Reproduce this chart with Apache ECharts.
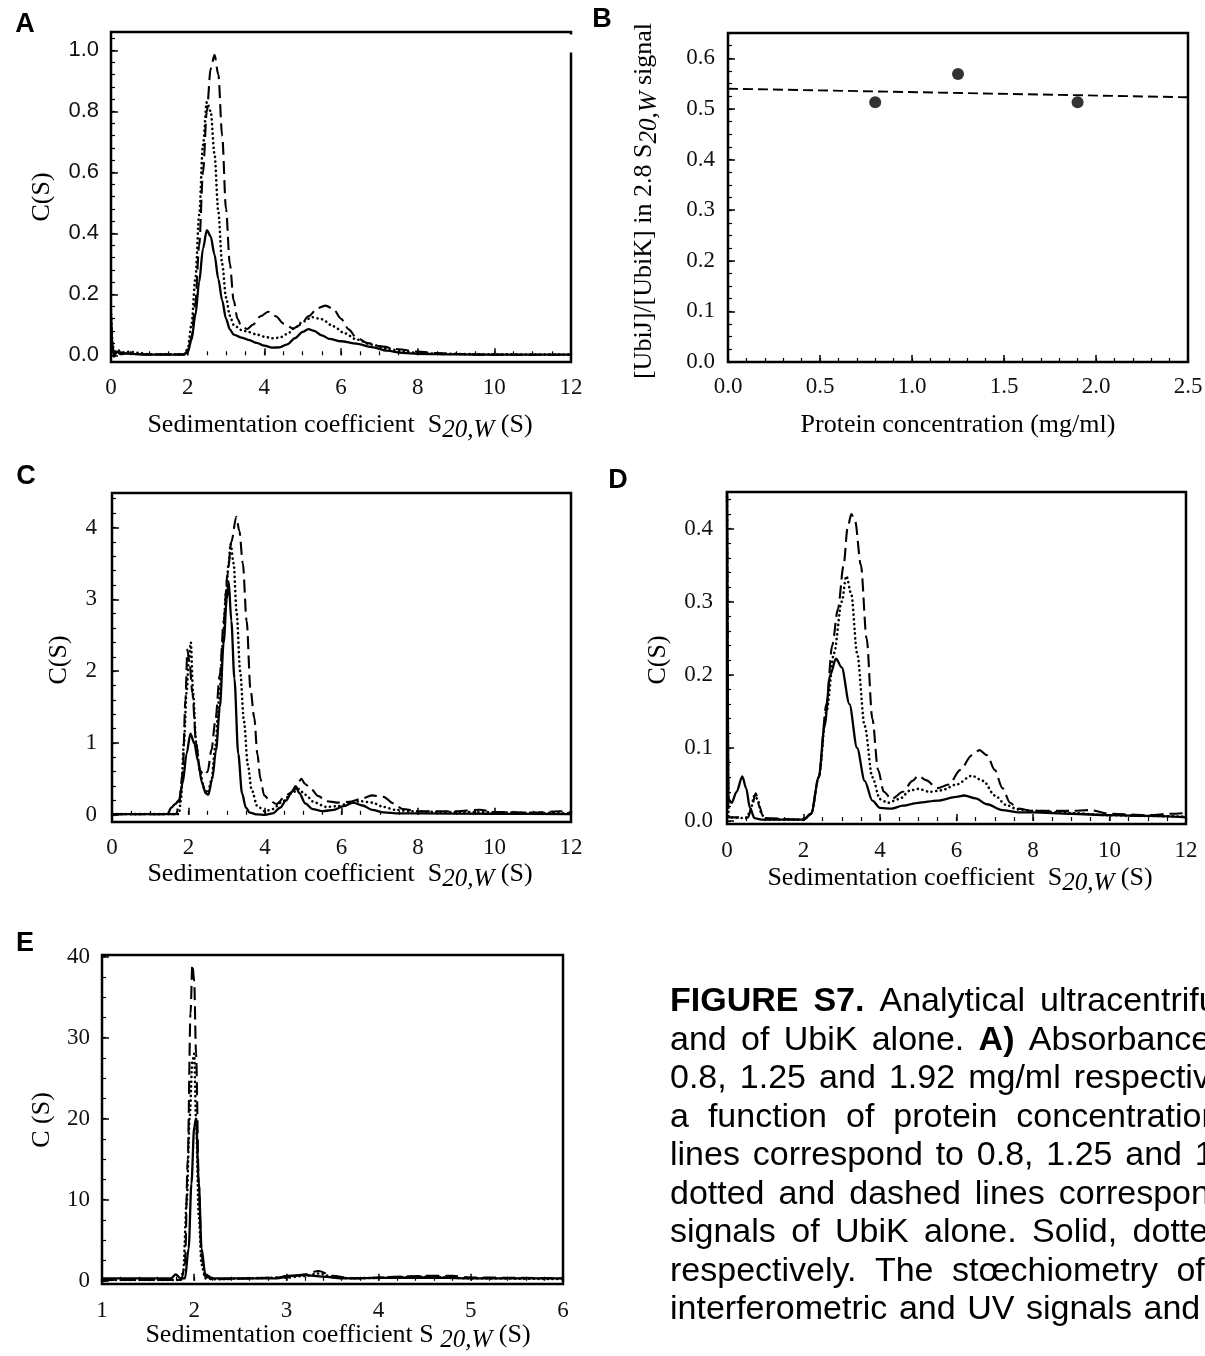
<!DOCTYPE html>
<html><head><meta charset="utf-8">
<script src="https://cdn.jsdelivr.net/npm/echarts@6.0.0/dist/echarts.min.js"></script>
<style>html,body{margin:0;padding:0;background:#fff}#c{width:1205px;height:1356px}</style>
</head><body><div id="c"></div>
<script>
// ---------- DATA ----------
// Panel A : c(s) absorbance, [s, c(s)]
const A_solid = [[0,0.13],[0.04,0.03],[0.08,-0.005],[0.15,0.012],[0.25,0.004],[0.4,0.006],[0.7,0.003],[1,0.002],[1.9,0.002],[2.0,0.01],[2.1,0.05],[2.2,0.13],[2.3,0.24],[2.4,0.35],[2.5,0.41],[2.6,0.39],[2.7,0.33],[2.8,0.25],[2.9,0.18],[3.0,0.12],[3.1,0.085],[3.2,0.068],[3.4,0.058],[3.6,0.05],[3.8,0.041],[4.0,0.032],[4.2,0.025],[4.4,0.026],[4.6,0.036],[4.8,0.056],[5.0,0.077],[5.15,0.086],[5.3,0.08],[5.5,0.065],[5.7,0.054],[6.0,0.046],[6.4,0.038],[6.8,0.027],[7.2,0.015],[7.6,0.008],[8,0.005],[9,0.003],[10,0.002],[12,0.002]];
const A_dotted = [[0,0.15],[0.04,0.04],[0.08,0.005],[0.15,0.018],[0.3,0.01],[0.5,0.012],[0.7,0.008],[1,0.003],[1.9,0.003],[2.0,0.02],[2.1,0.1],[2.2,0.25],[2.3,0.46],[2.4,0.69],[2.5,0.83],[2.6,0.8],[2.7,0.66],[2.8,0.47],[2.9,0.3],[3.0,0.19],[3.1,0.13],[3.2,0.1],[3.4,0.083],[3.6,0.076],[3.8,0.068],[4.0,0.061],[4.2,0.056],[4.4,0.058],[4.6,0.07],[4.8,0.09],[5.0,0.11],[5.25,0.125],[5.5,0.118],[5.8,0.095],[6.1,0.072],[6.4,0.052],[6.8,0.035],[7.2,0.022],[7.6,0.013],[8,0.008],[8.5,0.005],[10,0.003],[12,0.002]];
const A_dashed = [[0,0.1],[0.04,0.03],[0.08,0.0],[0.15,0.012],[0.4,0.006],[1,0.003],[1.9,0.003],[2.0,0.015],[2.1,0.06],[2.2,0.17],[2.3,0.36],[2.4,0.6],[2.5,0.8],[2.6,0.94],[2.7,0.985],[2.8,0.92],[2.9,0.72],[3.0,0.48],[3.1,0.3],[3.2,0.18],[3.3,0.12],[3.4,0.095],[3.55,0.086],[3.7,0.1],[3.9,0.128],[4.1,0.143],[4.3,0.128],[4.5,0.104],[4.75,0.088],[4.95,0.1],[5.15,0.128],[5.4,0.155],[5.6,0.163],[5.8,0.152],[6.0,0.12],[6.2,0.085],[6.4,0.058],[6.7,0.04],[7.0,0.03],[7.5,0.02],[8.0,0.012],[8.5,0.007],[9,0.004],[10,0.002],[12,0.002]];

// Panel B : stoichiometry vs protein concentration
const B_conc = [0.8, 1.25, 1.9];
const B_ratio = [0.513, 0.569, 0.513];
const B_fitX = [0, 2.5];
const B_fitY = [0.540, 0.523];

// Panel C : interference signal
const C_solid = [[0,0.01],[1.45,0.01],[1.55,0.1],[1.65,0.15],[1.75,0.2],[1.85,0.45],[1.95,0.85],[2.05,1.13],[2.15,1.0],[2.25,0.75],[2.35,0.45],[2.45,0.3],[2.52,0.28],[2.62,0.5],[2.72,0.9],[2.82,1.5],[2.92,2.4],[3.0,3.0],[3.05,3.25],[3.12,2.7],[3.2,1.9],[3.3,0.85],[3.4,0.3],[3.5,0.1],[3.6,0.03],[3.8,0.005],[4.0,0.0],[4.2,0.02],[4.4,0.1],[4.55,0.2],[4.7,0.32],[4.8,0.4],[4.9,0.3],[5.05,0.16],[5.25,0.08],[5.5,0.05],[5.8,0.07],[6.05,0.12],[6.3,0.17],[6.55,0.13],[6.8,0.07],[7.1,0.035],[7.5,0.02],[8,0.02],[10,0.015],[12,0.01]];
const C_dotted = [[0,0.01],[1.75,0.01],[1.8,0.2],[1.88,1.0],[1.95,1.7],[2.0,2.1],[2.06,2.4],[2.12,1.7],[2.2,1.0],[2.3,0.6],[2.4,0.38],[2.5,0.3],[2.6,0.48],[2.7,0.95],[2.8,1.6],[2.9,2.4],[2.98,3.1],[3.05,3.5],[3.1,3.77],[3.18,3.5],[3.26,2.8],[3.35,2.0],[3.45,1.3],[3.55,0.7],[3.65,0.35],[3.8,0.12],[4.0,0.05],[4.2,0.08],[4.45,0.18],[4.7,0.3],[4.88,0.36],[5.05,0.28],[5.3,0.17],[5.6,0.11],[5.9,0.12],[6.2,0.16],[6.5,0.19],[6.8,0.17],[7.1,0.11],[7.4,0.07],[7.8,0.05],[8.5,0.04],[9.5,0.04],[10.5,0.03],[12,0.02]];
const C_dashed = [[0,0.01],[1.68,0.01],[1.75,0.15],[1.85,0.6],[1.92,1.6],[1.97,2.3],[2.03,2.1],[2.1,1.7],[2.2,1.0],[2.3,0.62],[2.4,0.55],[2.5,0.6],[2.6,0.9],[2.7,1.3],[2.82,1.95],[2.92,2.7],[3.02,3.35],[3.12,3.8],[3.25,4.15],[3.33,3.95],[3.42,3.5],[3.52,2.7],[3.62,1.75],[3.72,1.35],[3.8,0.85],[3.88,0.5],[3.98,0.27],[4.12,0.2],[4.3,0.15],[4.5,0.24],[4.65,0.3],[4.8,0.36],[4.95,0.5],[5.05,0.43],[5.2,0.36],[5.4,0.26],[5.6,0.19],[5.9,0.17],[6.2,0.18],[6.5,0.22],[6.8,0.27],[7.1,0.25],[7.35,0.16],[7.6,0.08],[8.0,0.05],[9.0,0.05],[9.6,0.07],[10,0.04],[11,0.03],[11.7,0.05],[12,0.03]];

// Panel D : absorbance signal of UbiK alone
const D_solid = [[0,0.45],[0.04,0.03],[0.12,0.025],[0.25,0.04],[0.4,0.061],[0.5,0.045],[0.6,0.018],[0.72,0.004],[0.9,0.002],[2.0,0.002],[2.2,0.01],[2.4,0.06],[2.55,0.13],[2.7,0.2],[2.85,0.222],[3.0,0.21],[3.2,0.16],[3.4,0.1],[3.6,0.055],[3.8,0.028],[4.0,0.018],[4.3,0.017],[4.6,0.021],[5.0,0.025],[5.5,0.028],[6.0,0.033],[6.2,0.035],[6.5,0.031],[6.8,0.023],[7.2,0.015],[7.6,0.012],[8,0.012],[9,0.01],[10,0.008],[11,0.007],[12,0.005]];
const D_dotted = [[0,0.45],[0.04,0.005],[0.5,0.004],[0.6,0.012],[0.72,0.035],[0.8,0.03],[0.9,0.01],[1.0,0.002],[2.0,0.002],[2.2,0.01],[2.4,0.06],[2.6,0.15],[2.8,0.23],[3.0,0.3],[3.12,0.335],[3.25,0.31],[3.4,0.23],[3.6,0.13],[3.8,0.06],[4.0,0.03],[4.2,0.025],[4.5,0.03],[4.8,0.042],[5.0,0.044],[5.3,0.04],[5.6,0.042],[6.0,0.05],[6.4,0.062],[6.7,0.055],[7.0,0.035],[7.3,0.022],[7.6,0.016],[8,0.014],[9,0.011],[10,0.008],[11,0.007],[12,0.006]];
const D_dashed = [[0,0.45],[0.04,0.005],[0.55,0.005],[0.65,0.02],[0.75,0.038],[0.85,0.02],[0.95,0.004],[2.0,0.002],[2.2,0.01],[2.4,0.06],[2.6,0.16],[2.75,0.24],[2.9,0.29],[3.05,0.35],[3.15,0.4],[3.25,0.42],[3.35,0.41],[3.5,0.35],[3.65,0.25],[3.8,0.14],[3.95,0.07],[4.1,0.04],[4.3,0.03],[4.6,0.04],[4.85,0.055],[5.0,0.062],[5.2,0.056],[5.5,0.045],[5.8,0.05],[6.1,0.07],[6.4,0.09],[6.6,0.097],[6.8,0.09],[7.0,0.07],[7.2,0.045],[7.4,0.025],[7.6,0.017],[8,0.014],[9,0.014],[9.5,0.015],[10,0.01],[11,0.008],[11.6,0.01],[12,0.011]];

// Panel E : interference signal of UbiK alone
const E_solid = [[1,0.3],[1.75,0.3],[1.8,0.8],[1.85,0.3],[1.9,0.3],[1.94,4],[1.97,12],[2.0,19],[2.02,20],[2.05,12],[2.08,4],[2.12,0.8],[2.2,0.3],[2.9,0.3],[3.0,0.6],[3.2,0.7],[3.4,0.5],[3.6,0.3],[4.5,0.4],[5,0.3],[6,0.3]];
const E_dotted = [[1,0.1],[1.85,0.1],[1.88,1],[1.92,10],[1.95,20],[1.98,27],[2.0,28],[2.02,20],[2.05,8],[2.08,2],[2.12,0.3],[2.2,0.2],[3.0,0.4],[3.2,0.6],[3.35,0.9],[3.5,0.5],[3.7,0.3],[4.5,0.5],[5,0.3],[6,0.2]];
const E_dashed = [[1,0.1],[1.86,0.1],[1.9,2],[1.93,15],[1.96,33],[1.98,39],[2.0,37],[2.02,28],[2.05,12],[2.08,3],[2.12,0.5],[2.2,0.2],[3.0,0.4],[3.2,0.8],[3.35,1.2],[3.5,0.6],[3.7,0.3],[4.5,0.6],[4.8,0.6],[5,0.4],[6,0.3]];

// tick labels
const A_xTicks = [0,2,4,6,8,10,12];
const A_yTicks = [0,0.2,0.4,0.6,0.8,1.0];
const B_xTicks = [0,0.5,1.0,1.5,2.0,2.5];
const B_yTicks = [0,0.1,0.2,0.3,0.4,0.5,0.6];
const C_xTicks = [0,2,4,6,8,10,12];
const C_yTicks = [0,1,2,3,4];
const D_xTicks = [0,2,4,6,8,10,12];
const D_yTicks = [0,0.1,0.2,0.3,0.4];
const E_xTicks = [1,2,3,4,5,6];
const E_yTicks = [0,10,20,30,40];

// caption (bold words start with *)
const captionLines = [
  '*FIGURE *S7. Analytical ultracentrifugation',
  'and of UbiK alone. *A) Absorbance',
  '0.8, 1.25 and 1.92 mg/ml respectively',
  'a function of protein concentration.',
  'lines correspond to 0.8, 1.25 and 1.92',
  'dotted and dashed lines correspond',
  'signals of UbiK alone. Solid, dotted',
  'respectively. The stœchiometry of',
  'interferometric and UV signals and'
];
const captionGaps = [15, 14.3, 13.1, 19, 12.8, 14, 15.4, 18.5, 11.6];

// ---------- STYLE / LAYOUT ----------
const SERIF = "'Times New Roman','Liberation Serif',serif";
const SANS = "Arial,'Liberation Sans',sans-serif";
const TICK = 23;
function steps(a, b, s) { const r = []; for (let i = 0; a + i * s <= b + 1e-9; i++) r.push(+(a + i * s).toFixed(5)); return r; }

const panels = [
  {grid:{left:111,top:32,width:460,height:330}, x:{min:0,max:12,major:A_xTicks,minor:steps(0,12,0.5),font:SERIF,margin:14,fmt:v=>String(v)},
   y:{min:-0.022,max:1.06,major:A_yTicks,minor:steps(0,1.04,0.04),font:SANS,margin:12,fmt:v=>v.toFixed(1)}},
  {grid:{left:728,top:33,width:460,height:329}, x:{min:0,max:2.5,major:B_xTicks,minor:steps(0,2.5,0.1),font:SERIF,margin:13,fmt:v=>v.toFixed(1)},
   y:{min:0,max:0.65,major:B_yTicks,minor:steps(0,0.65,0.025),font:SERIF,margin:13,fmt:v=>v.toFixed(1)}},
  {grid:{left:112,top:493,width:459,height:329}, x:{min:0,max:12,major:C_xTicks,minor:steps(0,12,0.5),font:SERIF,margin:14,fmt:v=>String(v)},
   y:{min:-0.1,max:4.48,major:C_yTicks,minor:steps(0,4.4,0.2),font:SERIF,margin:15,fmt:v=>String(v)}},
  {grid:{left:727,top:492,width:459,height:332}, x:{min:0,max:12,major:D_xTicks,minor:steps(0,12,0.5),font:SERIF,margin:15,fmt:v=>String(v)},
   y:{min:-0.004,max:0.45,major:D_yTicks,minor:steps(0,0.44,0.02),font:SERIF,margin:14,fmt:v=>v.toFixed(1)}},
  {grid:{left:102,top:955,width:461,height:329}, x:{min:1,max:6,major:E_xTicks,minor:steps(1,6,0.2),font:SERIF,margin:15,fmt:v=>String(v)},
   y:{min:-0.4,max:40.2,major:E_yTicks,minor:steps(0,40,2.5),font:SERIF,margin:12,fmt:v=>String(v)}}
];

const grids = [], xAxes = [], yAxes = [];
panels.forEach((p, gi) => {
  grids.push(Object.assign({show:true, borderColor:'#000', borderWidth:2.5, backgroundColor:'transparent', containLabel:false, outerBoundsMode:'none'}, p.grid));
  ['x','y'].forEach(dim => {
    const c = p[dim];
    const list = dim === 'x' ? xAxes : yAxes;
    const base = {type:'value', gridIndex:gi, min:c.min, max:c.max, position: dim==='x'?'bottom':'left',
      axisLine:{show:false}, splitLine:{show:false}, minorTick:{show:false}, minorSplitLine:{show:false}};
    list.push(Object.assign({}, base, {
      axisTick:{show:true, inside:true, length:7, lineStyle:{color:'#000', width:1.5}, customValues:c.major},
      axisLabel:{show:true, customValues:c.major, formatter:c.fmt, fontFamily:c.font, fontSize:(c.font===SANS?22:TICK), color:'#111', margin:c.margin, hideOverlap:false, showMinLabel:true, showMaxLabel:true}
    }));
    list.push(Object.assign({}, base, {
      axisTick:{show:true, inside:true, length:4, lineStyle:{color:'#000', width:1.2}, customValues:c.minor},
      axisLabel:{show:false}
    }));
  });
});

function curve(data, gi, kind) {
  const ls = {color:'#000'};
  if (kind === 'solid') { ls.width = 2.3; ls.type = 'solid'; }
  else if (kind === 'dotted') { ls.width = 2.6; ls.type = [0.1, 4.6]; ls.cap = 'round'; }
  else { ls.width = 2.1; ls.type = [13, 6]; }
  return {type:'line', xAxisIndex:gi*2, yAxisIndex:gi*2, data:data, showSymbol:false, symbol:'none',
    smooth:0.3, smoothMonotone:'x', lineStyle:ls, silent:true, animation:false, z:3};
}

const series = [
  curve(A_solid,0,'solid'), curve(A_dotted,0,'dotted'), curve(A_dashed,0,'dashed'),
  {type:'line', xAxisIndex:2, yAxisIndex:2, data:B_fitX.map((x,i)=>[x,B_fitY[i]]), showSymbol:false, symbol:'none',
    lineStyle:{color:'#000', width:1.9, type:[10,5]}, animation:false},
  {type:'scatter', xAxisIndex:2, yAxisIndex:2, data:B_conc.map((x,i)=>[x,B_ratio[i]]), symbol:'circle', symbolSize:12,
    itemStyle:{color:'#000'}, animation:false},
  curve(C_solid,2,'solid'), curve(C_dotted,2,'dotted'), curve(C_dashed,2,'dashed'),
  curve(D_solid,3,'solid'), curve(D_dotted,3,'dotted'), curve(D_dashed,3,'dashed'),
  curve(E_solid,4,'solid'), curve(E_dotted,4,'dotted'), curve(E_dashed,4,'dashed')
];

const TITLE = 26;
const richTitle = {
  n:{fontFamily:SERIF, fontSize:TITLE, lineHeight:36, color:'#111'},
  s:{fontFamily:SERIF, fontSize:TITLE-1, fontStyle:'italic', lineHeight:24, verticalAlign:'bottom', color:'#111'}
};
const sedTitle = '{n|Sedimentation coefficient  S}{s|20,W}{n| (S)}';
const sedTitleE = '{n|Sedimentation coefficient S }{s|20,W}{n| (S)}';
function txt(x, y, text, rich, rot) {
  return {type:'text', x:x, y:y, rotation:rot||0, z:100, silent:true,
    style:{text:text, rich:rich, align:'center', verticalAlign:'middle'}};
}
function letter(x, y, t) {
  return {type:'text', x:x, y:y, z:100, silent:true,
    style:{text:t, fontFamily:SANS, fontWeight:'bold', fontSize:27, fill:'#000', align:'center', verticalAlign:'middle'}};
}
const graphics = [
  letter(25,25,'A'), letter(602,20,'B'), letter(26,477,'C'), letter(618,481,'D'), letter(25,944,'E'),
  txt(340,425,sedTitle,richTitle), txt(42,197,'{n|C(S)}',richTitle,Math.PI/2),
  txt(958,425,'{n|Protein concentration (mg/ml)}',richTitle), txt(644,201,'{n|[UbiJ]/[UbiK] in 2.8 S}{s|20,W}{n| signal}',richTitle,Math.PI/2),
  txt(340,874,sedTitle,richTitle), txt(59,660,'{n|C(S)}',richTitle,Math.PI/2),
  txt(960,878,sedTitle,richTitle), txt(658,660,'{n|C(S)}',richTitle,Math.PI/2),
  txt(338,1335,sedTitleE,richTitle), txt(42,1120,'{n|C (S)}',richTitle,Math.PI/2),
  {type:'rect', shape:{x:568, y:34.5, width:6, height:18}, style:{fill:'#fff'}, z:100, silent:true}
];

// caption words laid out with measured widths (justified-looking spacing)
const CAP = 34;
const mctx = document.createElement('canvas').getContext('2d');
captionLines.forEach((line, i) => {
  let x = 670;
  const y = 1002 + i * 38.5;
  line.split(' ').forEach(w => {
    const bold = w.startsWith('*');
    const word = bold ? w.slice(1) : w;
    mctx.font = (bold ? 'bold ' : '') + CAP + "px Arial, 'Liberation Sans', sans-serif";
    graphics.push({type:'text', x:x, y:y, z:100, silent:true,
      style:{text:word, align:'left', verticalAlign:'middle', fontFamily:SANS, fontSize:CAP, fontWeight:bold?'bold':'normal', fill:'#000'}});
    x += mctx.measureText(word).width + captionGaps[i];
  });
});

const chart = echarts.init(document.getElementById('c'), null, {renderer:'canvas'});
chart.setOption({
  backgroundColor:'#fff', animation:false,
  grid:grids, xAxis:xAxes, yAxis:yAxes, series:series, graphic:graphics
});
</script></body></html>
